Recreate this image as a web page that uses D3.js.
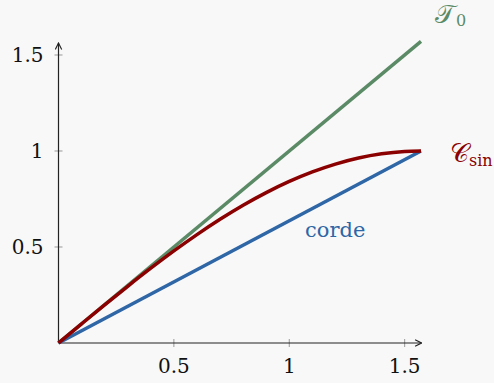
<!DOCTYPE html>
<html>
<head>
<meta charset="utf-8">
<script src="https://cdn.jsdelivr.net/npm/d3@7"></script>
<style>
  html, body { margin: 0; padding: 0; background: #f8f8f8; }
</style>
</head>
<body>
<div id="host"></div>
<script>
// values
const xs = [0, 0.1, 0.2, 0.3, 0.4, 0.5, 0.6, 0.7, 0.8, 0.9, 1.0, 1.1, 1.2, 1.3, 1.4, 1.5, 1.5708];
const sinVals = [0, 0.0998, 0.1987, 0.2955, 0.3894, 0.4794, 0.5646, 0.6442, 0.7174, 0.7833, 0.8415, 0.8912, 0.932, 0.9636, 0.9854, 0.9975, 1];
const tangentPts = [[0, 0], [1.5708, 1.5708]];
const chordPts = [[0, 0], [1.5708, 1]];
const xTicks = [0.5, 1, 1.5];
const yTicks = [0.5, 1, 1.5];

const width = 494, height = 383;
const serif = '"DejaVu Serif", serif';
const svg = d3.select('#host').append('svg').attr('width', width).attr('height', height)
  .style('display', 'block');

const x = d3.scaleLinear().domain([0, 1.5708]).range([58.5, 421]);
const y = d3.scaleLinear().domain([0, 1.5708]).range([343, 41.4]);

const axisCol = '#222';
const tickCol = '#999';

svg.append('defs').append('marker')
  .attr('id', 'arr').attr('viewBox', '0 0 10 10').attr('refX', 9).attr('refY', 5)
  .attr('markerWidth', 8).attr('markerHeight', 8).attr('orient', 'auto-start-reverse')
  .attr('markerUnits', 'userSpaceOnUse')
  .append('path').attr('d', 'M1,1 L9,5 L1,9').attr('fill', 'none').attr('stroke', axisCol).attr('stroke-width', 1.4);

// ticks (crossing the axis)
const gx = svg.append('g');
xTicks.forEach(t => {
  gx.append('line').attr('x1', x(t)).attr('x2', x(t)).attr('y1', y(0) - 4).attr('y2', y(0) + 4)
    .attr('stroke', tickCol).attr('stroke-width', 1);
  gx.append('text').attr('x', x(t)).attr('y', y(0) + 30).attr('text-anchor', 'middle')
    .attr('font-family', serif).attr('font-size', 20).attr('fill', '#111').text(t);
});
const gy = svg.append('g');
yTicks.forEach(t => {
  gy.append('line').attr('x1', x(0) - 4).attr('x2', x(0) + 4).attr('y1', y(t)).attr('y2', y(t))
    .attr('stroke', tickCol).attr('stroke-width', 1);
  gy.append('text').attr('x', x(0) - 15).attr('y', y(t)).attr('dy', '0.36em').attr('text-anchor', 'end')
    .attr('font-family', serif).attr('font-size', 20).attr('fill', '#111').text(t);
});

// axes
svg.append('line').attr('x1', x(0)).attr('y1', y(0)).attr('x2', x(1.5708) + 0.5).attr('y2', y(0))
  .attr('stroke', axisCol).attr('stroke-width', 1.2).attr('marker-end', 'url(#arr)');
svg.append('line').attr('x1', x(0)).attr('y1', y(0)).attr('x2', x(0)).attr('y2', 43)
  .attr('stroke', axisCol).attr('stroke-width', 1.2).attr('marker-end', 'url(#arr)');

const line = d3.line().x(d => x(d[0])).y(d => y(d[1]));
const sinPts = xs.map((v, i) => [v, sinVals[i]]);

svg.append('path').datum(tangentPts).attr('d', line).attr('fill', 'none')
  .attr('stroke', '#5b8a66').attr('stroke-width', 3.5);
svg.append('path').datum(chordPts).attr('d', line).attr('fill', 'none')
  .attr('stroke', '#2e66a6').attr('stroke-width', 3.5);
svg.append('path').datum(sinPts).attr('d', line.curve(d3.curveMonotoneX)).attr('fill', 'none')
  .attr('stroke', '#8b0000').attr('stroke-width', 3.5);

// labels
const t0 = svg.append('text').attr('x', 435).attr('y', 23).attr('fill', '#5b8a66')
  .attr('font-family', serif).attr('font-size', 26);
t0.append('tspan').text('\u{1D4AF}');
t0.append('tspan').attr('font-size', 16).attr('dy', 3).attr('dx', 1).text('0');

const cs = svg.append('text').attr('x', 450).attr('y', 162).attr('fill', '#8b0000')
  .attr('font-family', serif).attr('font-size', 26);
cs.append('tspan').text('\u{1D49E}');
cs.append('tspan').attr('font-size', 16).attr('dy', 4).text('sin');

svg.append('text').attr('x', 305).attr('y', 237).attr('fill', '#2e66a6')
  .attr('font-family', serif).attr('font-size', 21).text('corde');
</script>
</body>
</html>
